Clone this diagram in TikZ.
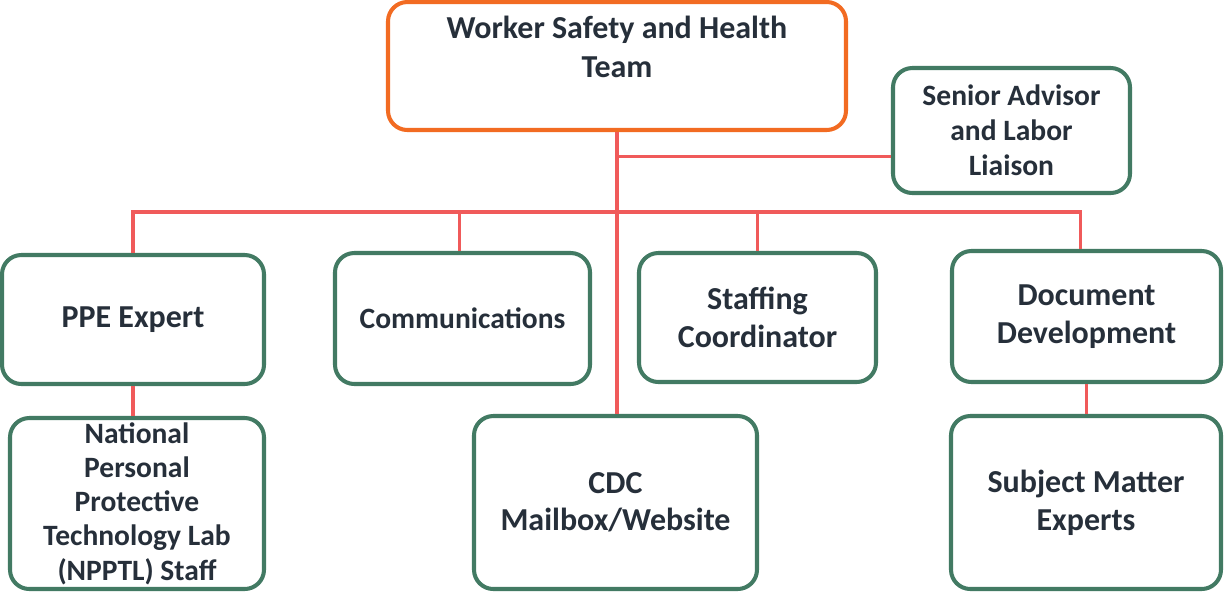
\documentclass[tikz,border=0pt]{standalone}
\usepackage{fontspec}
\setmainfont{Carlito}
\definecolor{inkslate}{HTML}{262F3A}
\definecolor{boxgreen}{HTML}{427A63}
\definecolor{leadorange}{HTML}{F26B22}
\definecolor{linkred}{HTML}{F05A5A}

\begin{document}
\begin{tikzpicture}[
  unit/.style={draw=boxgreen, line width=2.3pt, rounded corners=11pt, fill=white,
    align=center, inner sep=0pt, text=inkslate,
    font=\bfseries\fontsize{18.2}{22}\selectfont},
  lead/.style={unit, draw=leadorange},
  link/.style={linkred, line width=2pt}
]
\useasboundingbox (0,0) rectangle (24.48,-11.82);

% leadership
\node[lead, minimum width=9.16cm, minimum height=2.56cm] (team) at (12.34,-1.32)
  {Worker Safety and Health\\Team\\~};
\node[unit, minimum width=4.74cm, minimum height=2.5cm,
  font=\bfseries\fontsize{16.8}{19.8}\selectfont] (advisor) at (20.23,-2.61)
  {Senior Advisor\\and Labor\\Liaison};

% first row
\node[unit, minimum width=5.24cm, minimum height=2.58cm] (ppe) at (2.66,-6.39) {PPE Expert};
\node[unit, minimum width=5.1cm, minimum height=2.62cm,
  font=\bfseries\fontsize{16.8}{22}\selectfont] (comms) at (9.25,-6.37) {Communications};
\node[unit, minimum width=4.74cm, minimum height=2.58cm] (staffing) at (15.15,-6.35) {Staffing\\Coordinator};
\node[unit, minimum width=5.38cm, minimum height=2.62cm] (docdev) at (21.73,-6.33) {Document\\Development};

% second row
\node[unit, minimum width=5.08cm, minimum height=3.42cm,
  font=\bfseries\fontsize{16.8}{19.5}\selectfont] (npptl) at (2.74,-10.07)
  {National\\Personal\\Protective\\Technology Lab\\(NPPTL) Staff};
\node[unit, minimum width=5.66cm, minimum height=3.46cm,
  font=\bfseries\fontsize{18.2}{21}\selectfont] (mailbox) at (12.31,-10.05)
  {CDC\\Mailbox/Website};
\node[unit, minimum width=5.4cm, minimum height=3.46cm,
  font=\bfseries\fontsize{18.2}{21.5}\selectfont] (sme) at (21.72,-10.05)
  {Subject Matter\\Experts};

% connectors
\coordinate (bus) at (0,-4.24);
\begin{scope}[link]
\draw (team.south) -- (team.south |- mailbox.north);
\draw ([yshift=-0.52cm]advisor.west) -- ([yshift=-0.52cm]advisor.west -| team.south);
\draw (ppe.north) -- (ppe.north |- bus) -- ([xshift=-0.12cm]docdev.north |- bus)
  -- ([xshift=-0.12cm]docdev.north);
\draw ([xshift=-0.06cm]comms.north) -- ([xshift=-0.06cm]comms.north |- bus);
\draw (staffing.north) -- (staffing.north |- bus);
\draw (ppe.south) -- (ppe.south |- npptl.north);
\draw (docdev.south) -- (docdev.south |- sme.north);
\end{scope}
\end{tikzpicture}
\end{document}
